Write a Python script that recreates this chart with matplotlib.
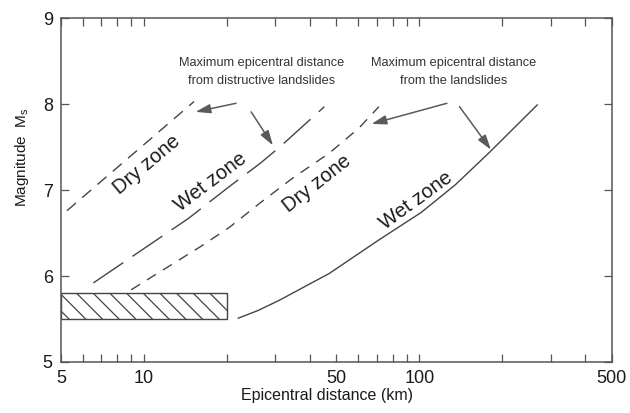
import matplotlib
matplotlib.use("Agg")
import matplotlib.pyplot as plt
from matplotlib.patches import Rectangle
from matplotlib.ticker import FixedLocator, FuncFormatter, NullLocator

plt.rcParams['font.family'] = ['Liberation Sans', 'DejaVu Sans']
plt.rcParams['mathtext.fontset'] = 'custom'
plt.rcParams['mathtext.rm'] = 'Liberation Sans'
plt.rcParams['hatch.linewidth'] = 0.9
plt.rcParams['hatch.color'] = '#444444'

# Data (x = epicentral distance km, y = magnitude Ms)
dry_near_x = [5.25, 15.2]
dry_near_y = [6.76, 8.03]
wet_near_x = [6.55, 10.0, 14.5, 20.2, 26.4, 31.1, 45.2]
wet_near_y = [5.92, 6.32, 6.67, 7.03, 7.31, 7.50, 7.97]
dry_far_x = [8.98, 16.0, 20.5, 26.4, 34.7, 47.1, 60.3, 71.3]
dry_far_y = [5.84, 6.34, 6.57, 6.85, 7.14, 7.43, 7.72, 7.97]
wet_far_x = [22.0, 26.0, 31.1, 38.0, 47.1, 71.3, 101.6, 135, 180, 268]
wet_far_y = [5.51, 5.60, 5.72, 5.87, 6.03, 6.42, 6.74, 7.06, 7.44, 7.99]

hatch_x = [5, 20]
hatch_y = [5.5, 5.8]

xtick_vals = [5, 6, 7, 8, 9, 10, 20, 30, 40, 50, 60, 70, 80, 90, 100, 200, 300, 400, 500]
xtick_labels = {5: '5', 10: '10', 50: '50', 100: '100', 500: '500'}
ytick_vals = [5, 6, 7, 8, 9]

zone_labels = ['Dry zone', 'Wet zone', 'Dry zone', 'Wet zone']
zone_x = [10.2, 17.4, 42.6, 97.5]
zone_y = [7.30, 7.09, 7.08, 6.88]
zone_rot = [40, 37, 38, 36]

note1 = 'Maximum epicentral distance\nfrom distructive landslides'
note2 = 'Maximum epicentral distance\nfrom the landslides'

line_col = '#444444'
arrow_col = '#5a5a5a'

fig = plt.figure(figsize=(6.3, 4.13), dpi=100)
ax = fig.add_axes([0.097, 0.1235, 0.874, 0.8325])

ax.plot(dry_near_x, dry_near_y, color=line_col, lw=1.0, dashes=(8.5, 6))
ax.plot(wet_near_x, wet_near_y, color=line_col, lw=1.0, dashes=(26, 8))
ax.plot(dry_far_x, dry_far_y, color=line_col, lw=1.0, dashes=(7.5, 6))
ax.plot(wet_far_x, wet_far_y, color=line_col, lw=1.0)

ax.add_patch(Rectangle((hatch_x[0], hatch_y[0]), hatch_x[1] - hatch_x[0], hatch_y[1] - hatch_y[0],
                       facecolor='white', edgecolor='#444444', lw=1.0, hatch='\\\\'))

for t, x, y, r in zip(zone_labels, zone_x, zone_y, zone_rot):
    ax.text(x, y, t, rotation=r, fontsize=14.5, ha='center', va='center',
            rotation_mode='anchor', color='#1a1a1a')

ax.text(26.8, 8.37, note1, fontsize=9.2, ha='center', va='center',
        linespacing=1.65, color='#333333')
ax.text(133.6, 8.37, note2, fontsize=9.2, ha='center', va='center',
        linespacing=1.65, color='#333333')

aprops = dict(arrowstyle='-|>,head_length=0.9,head_width=0.28', color=arrow_col, lw=1.1,
              shrinkA=0, shrinkB=0)
ax.annotate('', xy=(15.4, 7.91), xytext=(21.6, 8.01), arrowprops=aprops)
ax.annotate('', xy=(29.4, 7.52), xytext=(24.5, 7.91), arrowprops=aprops)
ax.annotate('', xy=(67.1, 7.77), xytext=(126, 8.01), arrowprops=aprops)
ax.annotate('', xy=(182, 7.47), xytext=(140, 7.97), arrowprops=aprops)

ax.set_xscale('log')
ax.set_xlim(5, 500)
ax.set_ylim(5, 9)
ax.xaxis.set_major_locator(FixedLocator(xtick_vals))
ax.xaxis.set_major_formatter(FuncFormatter(lambda v, p: xtick_labels.get(int(round(v)), '')))
ax.xaxis.set_minor_locator(NullLocator())
ax.yaxis.set_major_locator(FixedLocator(ytick_vals))
ax.tick_params(direction='in', length=6, width=0.9, color='#555555', top=True, right=True,
               labelsize=13, pad=6, labelcolor='#1a1a1a')

for s in ax.spines.values():
    s.set_color('#555555')
    s.set_linewidth(1.1)

ax.set_xlabel('Epicentral distance (km)', fontsize=11.5, color='#1a1a1a')
ax.xaxis.set_label_coords(0.483, -0.075)
fig.text(0.035, 0.62, r'Magnitude  $\mathrm{M}_\mathrm{s}$', rotation=90, fontsize=11,
         ha='center', va='center', color='#1a1a1a')

fig.savefig('out.png', dpi=100)
